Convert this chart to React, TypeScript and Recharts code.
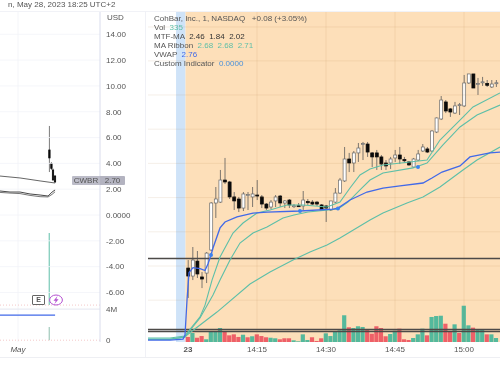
import React from 'react';
import {
  Bar,
  Cell,
  ComposedChart,
  Line,
  ReferenceArea,
  ReferenceDot,
  ReferenceLine,
  XAxis,
  YAxis,
} from 'recharts';

// open, high, low, close per minute, first row is 14:00
const candles = [
  [-4.11, -3.49, -6.43, -4.73], [-4.73, -2.48, -5.04, -3.49], [-3.57, -2.79, -4.88, -4.57], [-4.8, -4.42, -5.66, -4.96],
  [-4.5, -2.87, -5.27, -2.95], [-2.71, 1.0, -2.79, 0.93], [0.93, 2.17, -0.23, 1.24], [1.0, 3.49, 0.93, 2.71],
  [2.71, 4.42, 2.4, 2.56], [2.56, 2.64, 1.24, 1.4], [1.4, 1.78, 0.39, 1.09], [1.24, 1.4, 0.23, 0.54],
  [0.54, 1.78, 0.31, 1.63], [1.55, 1.78, 0.39, 1.58], [1.4, 2.17, 0.62, 1.63], [1.55, 2.71, 1.16, 1.47],
  [1.4, 1.55, 0.54, 0.85], [0.85, 0.93, 0.39, 0.54], [0.62, 1.16, 0.46, 1.0], [1.09, 1.55, 0.62, 1.4],
  [1.47, 1.55, 0.62, 0.93], [0.93, 1.16, 0.54, 1.09], [1.16, 1.24, 0.54, 0.78], [0.7, 0.85, 0.54, 0.72],
  [0.72, 0.93, 0.62, 0.68], [0.7, 1.86, 0.39, 1.16], [1.05, 1.24, 0.78, 0.95], [1.0, 1.16, 0.78, 0.85],
  [1.0, 1.09, 0.7, 0.85], [0.78, 0.85, 0.39, 0.39], [0.7, 0.78, -0.54, 0.54], [0.39, 1.09, 0.31, 1.09],
  [1.0, 2.09, 0.93, 1.7], [1.7, 2.87, 1.63, 2.71], [2.64, 5.27, 2.56, 4.34], [4.34, 4.81, 3.33, 4.03],
  [4.03, 4.96, 3.33, 4.81], [4.81, 5.58, 4.11, 5.19], [5.5, 5.66, 4.26, 5.53], [5.5, 5.66, 4.5, 4.88],
  [4.81, 4.88, 3.72, 4.5], [4.81, 5.04, 3.49, 4.5], [4.5, 4.65, 3.49, 3.95], [4.03, 4.26, 3.49, 3.8],
  [4.03, 4.5, 3.57, 4.34], [4.42, 5.04, 4.11, 4.65], [4.65, 5.27, 3.95, 4.34], [4.3, 4.5, 4.03, 4.2],
  [4.11, 4.18, 3.8, 3.88], [3.72, 4.42, 3.65, 4.34], [4.26, 5.04, 4.18, 4.73], [4.96, 5.5, 4.88, 5.27],
  [5.12, 5.27, 4.8, 4.88], [4.96, 6.57, 4.88, 6.51], [6.43, 7.56, 6.35, 7.52], [7.44, 9.22, 7.36, 8.91],
  [8.76, 8.91, 7.9, 8.06], [8.22, 8.29, 7.6, 7.98], [7.9, 8.76, 7.83, 8.45], [8.5, 8.68, 7.75, 8.55],
  [8.45, 10.85, 8.37, 10.23], [10.23, 10.93, 10.15, 10.93], [10.93, 10.93, 9.84, 9.84], [10.15, 10.62, 9.3, 10.18],
  [10.3, 10.7, 10.0, 10.32], [10.2, 10.46, 9.92, 10.05], [9.92, 10.46, 9.84, 10.15], [10.22, 10.46, 9.92, 10.25],
];

// volume in millions, same minutes as the candles
const volumes = [
  0.65, 1.16, 0.55, 0.77, 0.35, 1.42, 1.42, 1.81, 1.42, 0.86, 0.99, 0.65, 0.94, 0.61, 0.74, 0.99, 0.77,
  0.61, 0.55, 0.48, 0.35, 0.48, 0.48, 0.22, 0.09, 0.99, 0.26, 0.61, 0.13, 0.48, 1.12, 0.77, 1.42, 1.51,
  3.45, 1.9, 1.81, 2.03, 1.94, 1.59, 1.07, 2.03, 1.81, 0.74, 1.03, 1.46, 1.72, 0.35, 0.26, 0.52, 0.99,
  1.72, 0.86, 3.23, 3.35, 3.39, 2.36, 1.38, 2.28, 1.16, 4.68, 2.15, 1.85, 1.59, 1.55, 0.99, 0.99, 0.52,
];
const volumeSides = 'rgrrggggrrrrgrgrrrggrrrgggg' + 'rrrgggggrgggrrrrrggrrrgggrgggrrgrggrggrgg';

// [minutes after 14:00, price]
const vwap = [
  [-8.7, -9.69], [-3.91, -9.69], [-1.09, -9.61], [-0.65, -9.3], [-0.22, -6.59], [0.22, -4.46], [1.09, -4.08],
  [2.61, -4.15], [3.7, -4.3], [4.35, -3.77], [5, -3.1], [5.43, -2.56], [6.96, -1.0], [8.04, -0.54], [10.65, -0.15],
  [14.13, 0.15], [17.17, 0.23], [24.35, 0.31], [31.52, 0.46], [32.61, 0.54], [35.22, 1.16], [38.91, 1.78],
  [42.39, 2.09], [46.09, 2.25], [51.09, 2.48], [53.04, 2.87], [55.22, 3.33], [59.13, 3.8], [61.3, 4.5],
  [65.65, 4.81], [67.83, 4.88],
];
const ribbonFast = [
  [-8.7, -9.53], [-3.91, -9.53], [-0.65, -9.38], [-0.22, -9.15], [2.61, -7.9], [3.7, -6.98], [5.22, -5.04],
  [6.96, -3.26], [9.78, -1.4], [11.96, -0.62], [15, 0.15], [17.83, 0.39], [21.52, 0.78], [25, 0.78], [30.22, 0.62],
  [33.04, 1.0], [35.22, 2.09], [37.39, 3.1], [39.57, 3.57], [42.39, 3.88], [48.26, 4.11], [51.96, 4.26],
  [54.78, 5.81], [59.78, 7.59], [61.96, 8.37], [67.83, 9.46],
];
const ribbonMid = [
  [-8.7, -9.61], [-3.91, -9.61], [-0.65, -9.46], [-0.22, -9.22], [2.61, -7.98], [5.43, -6.2], [6.96, -5.04],
  [9.13, -3.49], [11.3, -2.17], [14.13, -1.4], [17.17, -0.93], [20.65, -0.23], [23.04, 0], [26.09, 0.23],
  [30.43, 0.39], [32.61, 0.46], [34.78, 1.0], [37.39, 1.94], [39.57, 2.71], [42.39, 3.26], [48.91, 3.65],
  [51.96, 4.03], [55.43, 5.43], [59.13, 6.82], [62.83, 7.75], [67.83, 8.52],
];
const ribbonSlow = [
  [-8.7, -9.65], [-3.91, -9.65], [-0.65, -9.46], [-0.22, -9.3], [6.3, -7.52], [13.48, -5.35], [17.83, -4.42],
  [22.83, -3.49], [26.52, -2.87], [30.22, -2.33], [33.04, -1.78], [35.22, -1.32], [39.57, -0.39], [42.39, 0.15],
  [47.61, 0.93], [51.09, 1.4], [54.78, 2.17], [59.78, 3.49], [62.83, 4.26], [67.83, 5.27],
];
const vwapMarks = [[5, -3.1], [24.35, 0.31], [32.6, 0.5], [50, 3.72]];
const levels = [-3.37, -8.87, -9.03];

const timeTicks = [0, 15, 30, 45, 60];
const timeLabels = ['23', '14:15', '14:30', '14:45', '15:00'];
const rightGridValues = [14.57, 11.94, 9.3, 6.65, 4, 1.35, -1.3, -3.95, -6.6];

// left pane, x is day of May
const dayCandles = [
  { t: 23, o: 5.04, h: 6.9, l: 3.33, c: 4.42 },
  { t: 24.4, o: 4.0, h: 4.1, l: 3.49, c: 3.6 },
  { t: 25.5, o: 3.49, h: 3.6, l: 2.7, c: 2.71 },
  { t: 26.9, o: 3.02, h: 3.1, l: 2.48, c: 2.56 },
];
const dayLineA = [[-11.6, 3.02], [2.4, 2.87], [16.4, 2.64], [26.9, 2.48]];
const dayLineB = [[-11.6, 1.86], [-4.6, 1.78], [2.4, 1.78], [9.4, 1.63], [16.4, 1.55], [22, 1.47], [24.8, 1.78], [26.9, 1.94]];
const dayLineC = [[-11.6, 1.75], [-4.6, 1.7], [2.4, 1.66], [9.4, 1.52], [16.4, 1.42], [22, 1.4], [24.8, 1.6], [26.9, 1.8]];
const dayBlue = [[-11.6, -7.75], [26.9, -7.75]];
const spike = [-6.98, -1.4];
const spikeVolume = [-9.7, -8.68];

const priceTicks = [14, 12, 10, 8, 6, 4, 2, 0, -2, -4, -6, -7.29, -9.69];
const priceLabels = ['14.00', '12.00', '10.00', '8.00', '6.00', '4.00', '2.00', '0.0000', '-2.00', '-4.00', '-6.00', '4M', '0'];

const PRICE_DOMAIN: [number, number] = [-9.84, 15.73];
const VOLUME_DOMAIN: [number, number] = [0, 42.58];
const RIGHT_X: [number, number] = [-8.7, 67.83];
const LEFT_X: [number, number] = [-11.6, 58.3];
const FONT = '"Liberation Sans", Arial, sans-serif';
const TEAL = '#5dbfa8';
const BLUE = '#4169e8';
const GRID = 'rgba(170,110,50,0.13)';

const toPoints = (rows: number[][]) => rows.map(([t, v]) => ({ t, v }));

const candleRows = candles.map(([o, h, l, c], i) => ({ t: i, o, h, l, c, vol: volumes[i] }));
const dayRows = dayCandles.map((row) => (row.t === 23 ? { ...row, spike, spikeVolume } : row));

const Candle = (props: any) => {
  const { x, y, width, height, payload } = props;
  const { o, h, l, c } = payload;
  const top = Math.min(y, y + height);
  const scale = Math.abs(height) / (h - l || 1);
  const openY = top + (h - o) * scale;
  const closeY = top + (h - c) * scale;
  const up = c >= o;
  const cx = x + width / 2;
  const bodyTop = Math.min(openY, closeY);
  const bodyH = Math.max(Math.abs(openY - closeY), 1);
  return (
    <g>
      <line x1={cx} x2={cx} y1={top} y2={top + Math.abs(height)} stroke="#5a5a5a" strokeWidth={0.8} />
      <rect x={x} y={bodyTop} width={width} height={bodyH} fill={up ? '#fff' : '#0a0a0a'} stroke={up ? '#6a6a6a' : '#0a0a0a'} strokeWidth={0.7} />
    </g>
  );
};

const TimeTick = (props: any) => {
  const { x, y, payload } = props;
  const first = payload.value === 0;
  return (
    <text x={x} y={y + 2} textAnchor="middle" fontFamily={FONT} fontSize={8} fontWeight={first ? 700 : 400} fill="#555">
      {timeLabels[timeTicks.indexOf(payload.value)]}
    </text>
  );
};

const MonthTick = (props: any) => (
  <text x={props.x} y={props.y + 2} textAnchor="middle" fontFamily={FONT} fontSize={8} fontStyle="italic" fill="#555">
    May
  </text>
);

const LeftPane = () => (
  <ComposedChart width={145} height={345} data={dayRows} margin={{ top: 0, right: 0, bottom: 0, left: 0 }}>
    <XAxis dataKey="t" type="number" domain={LEFT_X} ticks={[1]} height={15} axisLine={false} tickLine={false} tick={<MonthTick />} />
    <XAxis xAxisId="candle" dataKey="t" type="number" domain={LEFT_X} hide />
    <XAxis xAxisId="spike" dataKey="t" type="number" domain={LEFT_X} hide />
    <XAxis xAxisId="spikeVol" dataKey="t" type="number" domain={LEFT_X} hide />
    <YAxis
      orientation="right"
      type="number"
      domain={PRICE_DOMAIN}
      ticks={priceTicks}
      interval={0}
      width={45}
      tickFormatter={(v: number) => priceLabels[priceTicks.indexOf(v)]}
      axisLine={{ stroke: '#d9dcec', strokeWidth: 1 }}
      tickLine={false}
      tickSize={0}
      tickMargin={6}
      tick={{ fontFamily: FONT, fontSize: 8, fill: '#555' }}
    />
    {priceTicks.slice(0, 11).map((v) => (
      <ReferenceLine key={v} y={v} stroke="#f3f4f9" strokeWidth={0.8} />
    ))}
    <ReferenceLine x={1} stroke="#f1f2f7" strokeWidth={0.8} />
    <ReferenceLine y={-7.29} stroke="#e4e6ef" />
    <ReferenceLine y={-6.98} stroke="#f4c9c9" strokeDasharray="1 2" />
    <ReferenceLine y={-9.7} stroke="#f4c9c9" strokeDasharray="1 2" />
    <Bar xAxisId="spike" dataKey="spike" barSize={1} fill={TEAL} isAnimationActive={false} />
    <Bar xAxisId="spikeVol" dataKey="spikeVolume" barSize={1} fill="#8fbfae" isAnimationActive={false} />
    <Line data={toPoints(dayBlue)} dataKey="v" stroke={BLUE} strokeWidth={1.2} dot={false} isAnimationActive={false} />
    <Line data={toPoints(dayLineA)} dataKey="v" stroke="#555" strokeWidth={0.9} dot={false} isAnimationActive={false} />
    <Line data={toPoints(dayLineB)} dataKey="v" stroke="#333" strokeWidth={0.9} dot={false} isAnimationActive={false} />
    <Line data={toPoints(dayLineC)} dataKey="v" stroke="#666" strokeWidth={0.9} dot={false} isAnimationActive={false} />
    <Bar xAxisId="candle" dataKey={(r: any) => [r.l, r.h]} barSize={1.6} shape={<Candle />} isAnimationActive={false} />
  </ComposedChart>
);

const RightPane = () => (
  <ComposedChart width={352} height={345} data={candleRows} margin={{ top: 0, right: 0, bottom: 0, left: 0 }}>
    <XAxis dataKey="t" type="number" domain={RIGHT_X} ticks={timeTicks} interval={0} height={15} axisLine={false} tickLine={false} tick={<TimeTick />} />
    <XAxis xAxisId="vol" dataKey="t" type="number" domain={RIGHT_X} hide />
    <XAxis xAxisId="candle" dataKey="t" type="number" domain={RIGHT_X} hide />
    <YAxis type="number" domain={PRICE_DOMAIN} hide />
    <YAxis yAxisId="vol" type="number" domain={VOLUME_DOMAIN} hide />
    <ReferenceArea x1={-2.6} x2={-0.54} fill="#cfe3f8" fillOpacity={1} stroke="none" />
    <ReferenceArea x1={-0.54} x2={67.83} fill="#fddfb9" fillOpacity={1} stroke="none" />
    {rightGridValues.map((v) => (
      <ReferenceLine key={v} y={v} stroke={GRID} strokeWidth={0.9} />
    ))}
    {timeTicks.slice(1).map((t) => (
      <ReferenceLine key={t} x={t} stroke={GRID} strokeWidth={0.9} />
    ))}
    <Bar dataKey="vol" xAxisId="vol" yAxisId="vol" barSize={4.2} isAnimationActive={false}>
      {candleRows.map((row, i) => (
        <Cell key={`vol-${row.t}`} fill={volumeSides[i] === 'g' ? '#54b99c' : '#ee6068'} />
      ))}
    </Bar>
    {levels.map((level) => (
      <ReferenceLine key={level} y={level} stroke="#4d4a48" strokeWidth={1.4} />
    ))}
    <Line data={toPoints(ribbonSlow)} dataKey="v" stroke={TEAL} strokeWidth={1.1} dot={false} isAnimationActive={false} />
    <Line data={toPoints(ribbonMid)} dataKey="v" stroke={TEAL} strokeWidth={1.1} dot={false} isAnimationActive={false} />
    <Line data={toPoints(ribbonFast)} dataKey="v" stroke={TEAL} strokeWidth={1.1} dot={false} isAnimationActive={false} />
    <Line data={toPoints(vwap)} dataKey="v" stroke={BLUE} strokeWidth={1.3} dot={false} isAnimationActive={false} />
    <Bar xAxisId="candle" dataKey={(r: any) => [r.l, r.h]} barSize={3} shape={<Candle />} isAnimationActive={false} />
    {vwapMarks.map(([t, v]) => (
      <ReferenceDot key={t} x={t} y={v} r={2} fill="#3b82f0" stroke="none" />
    ))}
  </ComposedChart>
);

const legendRows = [
  { label: 'CohBar, Inc., 1, NASDAQ', value: ' +0.08 (+3.05%)', color: '#555' },
  { label: 'Vol', value: '335', color: TEAL },
  { label: 'MTF-MA', value: '2.46  1.84  2.02', color: '#333' },
  { label: 'MA Ribbon', value: '2.68  2.68  2.71', color: TEAL },
  { label: 'VWAP', value: '2.76', color: BLUE },
  { label: 'Custom Indicator', value: '0.0000', color: '#4a90d9' },
];

const App = () => (
  <div style={{ position: 'fixed', left: 0, top: 0, width: 500, height: 375, background: '#fff', overflow: 'hidden', fontFamily: FONT, color: '#555', filter: 'blur(0.3px)' }}>
    <div style={{ position: 'absolute', left: 8, top: 0, fontSize: 8, lineHeight: '10px', whiteSpace: 'nowrap' }}>n, May 28, 2023 18:25 UTC+2</div>
    <div style={{ position: 'absolute', left: 0, top: 11, width: 500, height: 1, background: '#f1f2f7' }} />
    <div style={{ position: 'absolute', left: 0, top: 357, width: 500, height: 1, background: '#eeeff3' }} />
    <div style={{ position: 'absolute', left: 145, top: 11, width: 1, height: 346, background: '#f0f1f6' }} />
    <div style={{ position: 'absolute', left: 0, top: 12 }}><LeftPane /></div>
    <div style={{ position: 'absolute', left: 148, top: 12 }}><RightPane /></div>
    <div style={{ position: 'absolute', left: 107, top: 13, fontSize: 8, lineHeight: '10px' }}>USD</div>
    <div style={{ position: 'absolute', left: 72, top: 176, width: 28, height: 9, background: '#bcbcc8', fontSize: 8, lineHeight: '9px', textAlign: 'center', borderRadius: '1px 0 0 1px' }}>CWBR</div>
    <div style={{ position: 'absolute', left: 100, top: 176, width: 25, height: 9, background: '#b3b3c0', fontSize: 8, lineHeight: '9px', textAlign: 'center', borderRadius: '0 1px 1px 0' }}>2.70</div>
    <div style={{ position: 'absolute', left: 32, top: 295, width: 11, height: 8, border: '1px solid #666', fontSize: 7, lineHeight: '8px', textAlign: 'center', fontWeight: 700, borderRadius: 1 }}>E</div>
    <svg style={{ position: 'absolute', left: 49, top: 294 }} width={15} height={12}>
      <ellipse cx={7} cy={6} rx={6.4} ry={5} fill="#fff" stroke="#b44fd0" strokeWidth={1} />
      <path d="M8.5 2 L4.5 6.8 L6.8 6.8 L5.4 10 L9.6 5.2 L7.3 5.2 Z" fill="#b44fd0" />
    </svg>
    <div style={{ position: 'absolute', left: 154, top: 14, fontSize: 8, lineHeight: '9px', whiteSpace: 'pre' }}>
      {legendRows.map((row) => (
        <div key={row.label}>
          {row.label}{'  '}
          <span style={{ color: row.color }}>{row.value}</span>
        </div>
      ))}
    </div>
  </div>
);

export default App;
